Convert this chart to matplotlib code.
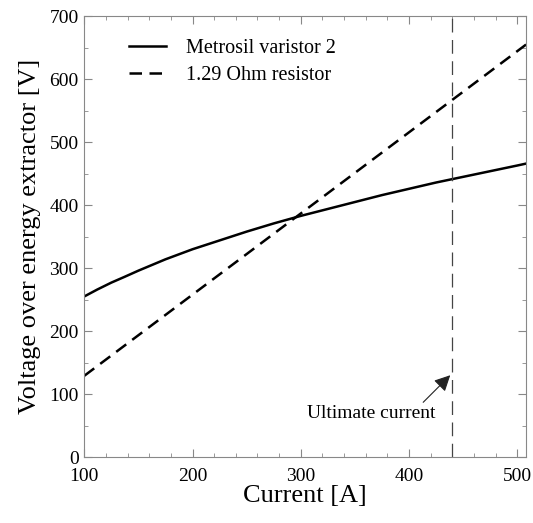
import numpy as np
import matplotlib.pyplot as plt
from matplotlib.ticker import MultipleLocator

# values
current = [100, 112, 125, 137, 150, 175, 200, 225, 250, 275, 300, 325, 350,
           375, 400, 425, 450, 475, 500, 508]
varistor = [255, 266, 277, 286, 296, 314, 330, 344, 358, 371, 383, 394, 405,
            416, 426, 436, 445, 454, 463, 466]
res_current = [100, 508]
resistor = [129, 655]
ultimate_current = 440

plt.rcParams['font.family'] = ['Liberation Serif', 'DejaVu Serif']

fig = plt.figure(figsize=(5.33, 5.23), dpi=100)
ax = fig.add_axes([0.158, 0.126, 0.829, 0.843])

ax.plot(current, varistor, color='black', lw=1.8, label='Metrosil varistor 2')
ax.plot(res_current, resistor, color='black', lw=1.8, ls=(0, (5, 3)),
        label='1.29 Ohm resistor')
ax.axvline(ultimate_current, color='#444444', lw=0.9, ls=(0, (11, 6)))

ax.text(365, 70, 'Ultimate current', ha='center', va='center', fontsize=14)
ax.annotate('', xy=(438, 130), xytext=(413, 87),
            arrowprops=dict(arrowstyle='-|>', color='#222222', lw=0.8,
                            mutation_scale=24, shrinkA=0, shrinkB=0))

ax.set_xlim(100, 508)
ax.set_ylim(0, 700)
ax.xaxis.set_major_locator(MultipleLocator(100))
ax.xaxis.set_minor_locator(MultipleLocator(20))
ax.yaxis.set_major_locator(MultipleLocator(100))
ax.yaxis.set_minor_locator(MultipleLocator(50))
ax.tick_params(which='both', direction='in', top=True, right=True,
               color='#888888', labelsize=14, pad=4)
ax.tick_params(axis='x', pad=8)
ax.tick_params(which='major', length=6)
ax.tick_params(which='minor', length=3)
for s in ax.spines.values():
    s.set_color('#888888')

ax.set_xlabel('Current [A]', fontsize=19, labelpad=0)
ax.set_ylabel('Voltage over energy extractor [V]', fontsize=19, labelpad=6)

ax.legend(loc='upper left', frameon=False, fontsize=14.5, handlelength=1.85,
          handletextpad=1.0, bbox_to_anchor=(0.06, 0.99), labelspacing=0.4)

fig.savefig('out.png', dpi=100)
